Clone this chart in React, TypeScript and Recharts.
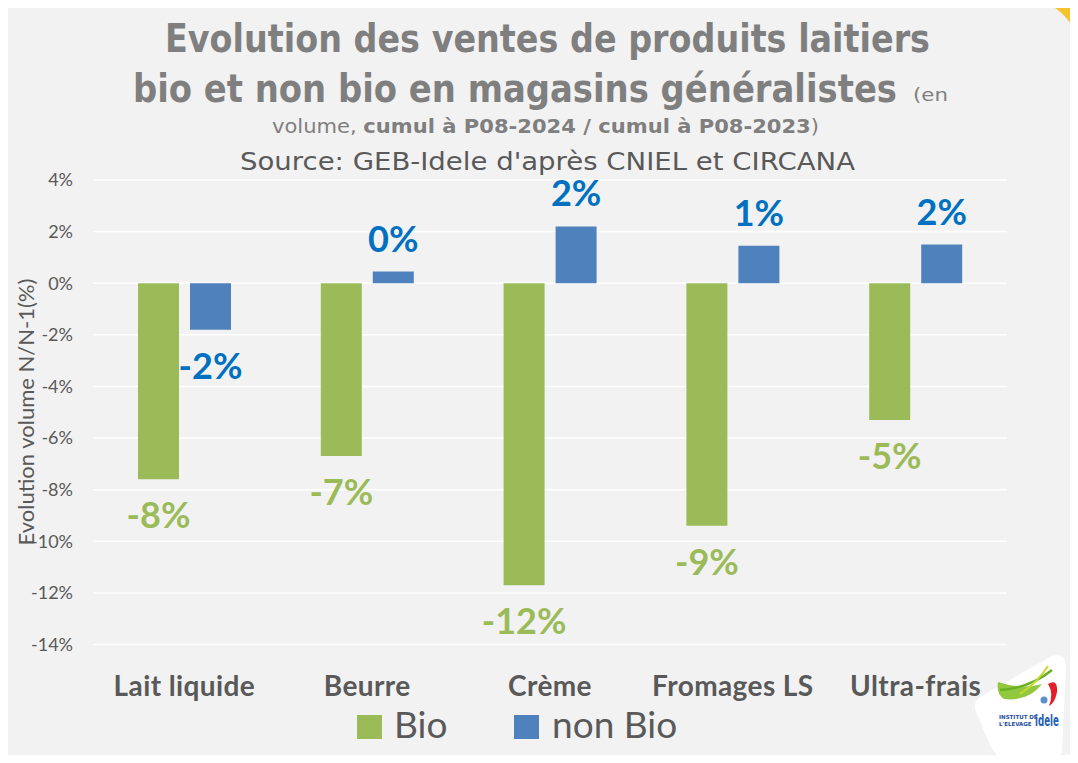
import { Bar, BarChart, CartesianGrid, LabelList, XAxis, YAxis } from "recharts";

const categories = ["Lait liquide", "Beurre", "Crème", "Fromages LS", "Ultra-frais"];
const bioValues = [-7.6, -6.7, -11.7, -9.4, -5.3];
const nonBioValues = [-1.8, 0.45, 2.2, 1.45, 1.5];
const yTicks = [-14, -12, -10, -8, -6, -4, -2, 0, 2, 4];

const GREEN = "#9bbb59";
const BLUE = "#4f81bd";
const GREEN_LABEL = "#9bbb59";
const BLUE_LABEL = "#0070c0";
const GRAY = "#595959";
const TITLE_GRAY = "#7f7f7f";

const data = categories.map((name, i) => ({
  name,
  bio: bioValues[i],
  nonBio: nonBioValues[i],
}));

// label under negative bars, above positive ones
const makeLabel = (color: string) => (props: any) => {
  const { x, y, width, height, value } = props;
  const top = Math.min(y, y + height);
  const bottom = Math.max(y, y + height);
  const cx = x + width / 2;
  const baseline = value < 0 ? bottom + 49 : top - 20;
  return (
    <text
      x={cx}
      y={baseline}
      textAnchor="middle"
      fill={color}
      fontFamily="Lato"
      fontWeight={700}
      fontSize={36}
    >
      {Math.round(value)}%
    </text>
  );
};

const CategoryTick = ({ x, y, payload }: any) => (
  <text
    x={x}
    y={y + 51.5}
    textAnchor="middle"
    fill={GRAY}
    fontFamily="Lato"
    fontWeight={700}
    fontSize={28}
    letterSpacing={0.4}
  >
    {payload.value}
  </text>
);

export default function App() {
  return (
    <div
      style={{
        position: "relative",
        width: 1078,
        height: 763,
        margin: -8,
        background: "#ffffff",
        overflow: "hidden",
      }}
    >
      {/* grey slide panel */}
      <div
        style={{
          position: "absolute",
          left: 7,
          top: 8,
          width: 1063,
          height: 755,
          background: "#f2f2f2",
          borderRight: "1px solid #d9d9d9",
        }}
      />
      <svg
        width={1078}
        height={763}
        style={{ position: "absolute", left: 0, top: 0 }}
      >
        {/* yellow corner */}
        <path d="M757 0 L1078 0 L1078 112 L1071 112 L1071 8 L770 8 Z" fill="#efb311" />
        <path d="M1040 0 L1078 0 L1078 40 Q1070 12 1040 0 Z" fill="#f4c430" />
      </svg>
      <div style={{ position: "absolute", left: 0, top: 0 }}>
        <BarChart
          width={1078}
          height={763}
          data={data}
          margin={{ top: 180, right: 71, bottom: 68.5, left: 33 }}
          barSize={41}
          barGap={11}
        >
          <CartesianGrid vertical={false} stroke="#ffffff" strokeWidth={1.5} />
          <XAxis
            dataKey="name"
            axisLine={false}
            tickLine={false}
            tickSize={0}
            tickMargin={0}
            height={50}
            interval={0}
            tick={<CategoryTick />}
          />
          <YAxis
            width={60}
            domain={[-14, 4]}
            ticks={yTicks}
            axisLine={false}
            tickLine={false}
            tickSize={0}
            tickMargin={20}
            tickFormatter={(v: number) => `${v}%`}
            tick={{ fill: GRAY, fontFamily: "Lato", fontSize: 18 }}
          />
          <Bar dataKey="bio" fill={GREEN} isAnimationActive={false}>
            <LabelList dataKey="bio" content={makeLabel(GREEN_LABEL)} />
          </Bar>
          <Bar dataKey="nonBio" fill={BLUE} isAnimationActive={false}>
            <LabelList dataKey="nonBio" content={makeLabel(BLUE_LABEL)} />
          </Bar>
        </BarChart>
      </div>
      <svg
        width={1078}
        height={763}
        style={{ position: "absolute", left: 0, top: 0, pointerEvents: "none" }}
      >
        {/* titles */}
        <text
          x={165}
          y={52}
          fontFamily="DejaVu Sans"
          fontWeight={700}
          fontSize={39}
          fill={TITLE_GRAY}
          textLength={765}
          lengthAdjust="spacingAndGlyphs"
        >
          Evolution des ventes de produits laitiers
        </text>
        <text
          x={133}
          y={102}
          fontFamily="DejaVu Sans"
          fontWeight={700}
          fontSize={39}
          fill={TITLE_GRAY}
          textLength={764}
          lengthAdjust="spacingAndGlyphs"
        >
          bio et non bio en magasins généralistes
        </text>
        <text
          x={913}
          y={101}
          fontFamily="DejaVu Sans"
          fontSize={18}
          fill={TITLE_GRAY}
          textLength={35}
          lengthAdjust="spacingAndGlyphs"
        >
          (en
        </text>
        <text
          x={272}
          y={133}
          fontFamily="DejaVu Sans"
          fontSize={20}
          fill={TITLE_GRAY}
          textLength={547}
          lengthAdjust="spacingAndGlyphs"
        >
          <tspan>volume, </tspan>
          <tspan fontWeight={700}>cumul à P08-2024 / cumul à P08-2023</tspan>
          <tspan>)</tspan>
        </text>
        <text
          x={240}
          y={170}
          fontFamily="DejaVu Sans"
          fontSize={25}
          fill={GRAY}
          textLength={615}
          lengthAdjust="spacingAndGlyphs"
        >
          Source: GEB-Idele d'après CNIEL et CIRCANA
        </text>

        {/* y axis title */}
        <text
          transform="translate(34 412) rotate(-90)"
          textAnchor="middle"
          fontFamily="Lato"
          fontSize={22}
          fill={GRAY}
        >
          Evolution volume N/N-1(%)
        </text>

        {/* legend */}
        <rect x={357} y={715} width={25} height={24} fill={GREEN} />
        <text x={394} y={738} fontFamily="Lato" fontSize={37} fill={GRAY}>
          Bio
        </text>
        <rect x={514} y={715} width={25} height={24} fill={BLUE} />
        <text x={552} y={738} fontFamily="Lato" fontSize={37} fill={GRAY}>
          non Bio
        </text>

        {/* logo */}
        <path
          d="M1052 656 Q1066 652 1066 668 L1062 750 Q1061 763 1050 763 L1010 763 Q998 760 990 745 L976 712 Q972 702 982 696 Z"
          fill="#ffffff"
        />
        <path d="M998 682 Q1022 690 1042 684 Q1028 702 1004 699 Q996 694 998 682 Z" fill="#92c83e" />
        <path d="M1000 690 Q1030 688 1052 670" stroke="#6ab023" strokeWidth={2.5} fill="none" />
        <path d="M1020 694 Q1038 682 1048 666" stroke="#c6d92e" strokeWidth={2} fill="none" />
        <path d="M1048 684 Q1058 678 1057 692 Q1055 703 1049 706 Q1054 693 1048 684 Z" fill="#e3202a" />
        <circle cx={1044} cy={700} r={3.5} fill="#5b8fd0" />
        <text x={999} y={719} fontFamily="DejaVu Sans" fontWeight={700} fontSize={5.5} fill="#1f4e9c">
          INSTITUT DE
        </text>
        <text x={999} y={726} fontFamily="DejaVu Sans" fontWeight={700} fontSize={5.5} fill="#1f4e9c">
          L'ELEVAGE
        </text>
        <text
          x={1035}
          y={726}
          fontFamily="DejaVu Sans"
          fontWeight={700}
          fontSize={15}
          fill="#1f5fb4"
          textLength={24}
          lengthAdjust="spacingAndGlyphs"
        >
          idele
        </text>
      </svg>
    </div>
  );
}
